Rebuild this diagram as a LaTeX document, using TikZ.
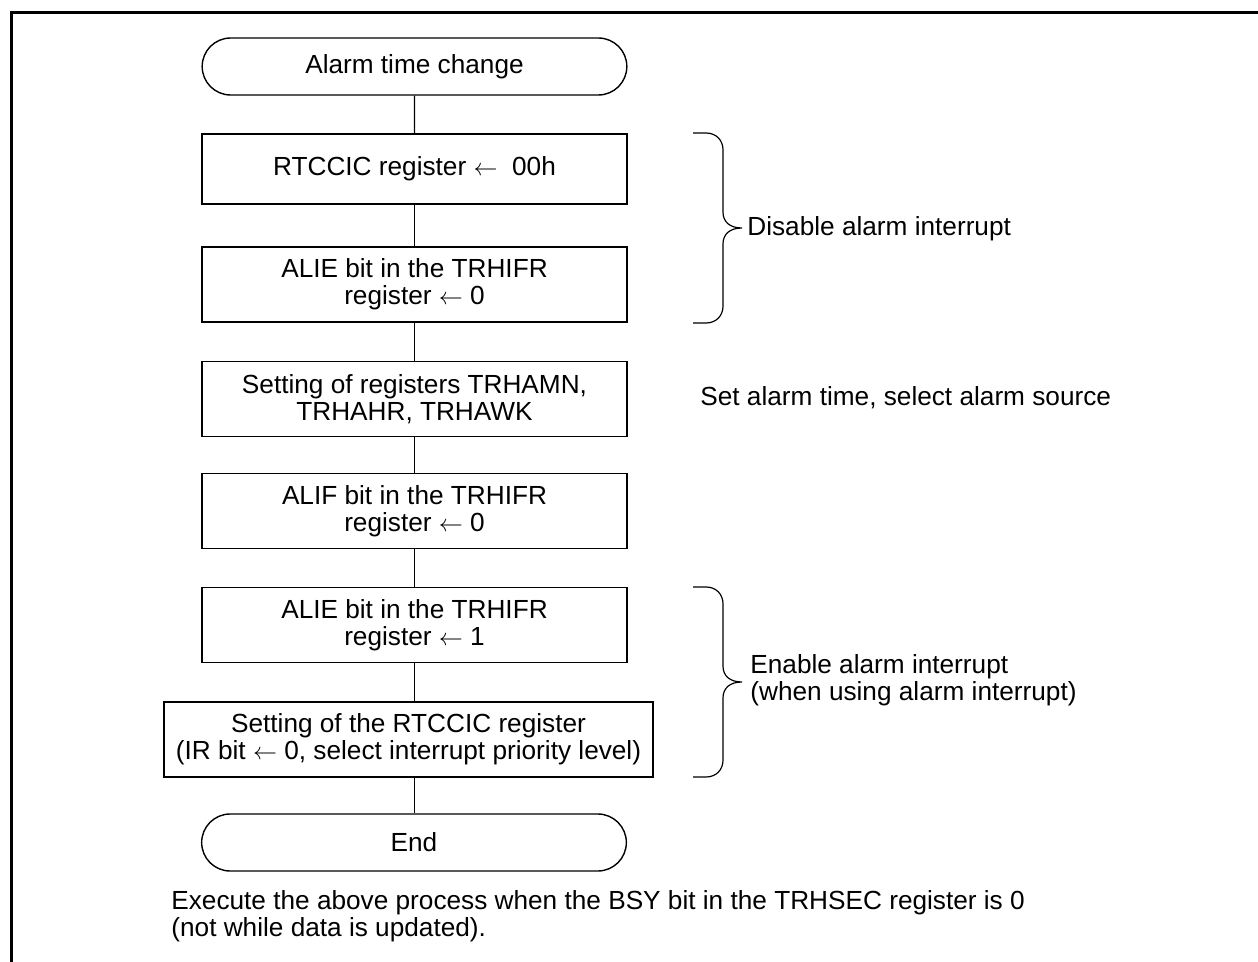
\documentclass[tikz,border=0pt]{standalone}
\usepackage{fontspec}
\setmainfont{Liberation Sans}
\usetikzlibrary{shapes.misc, positioning, calc}

\tikzset{
  proc/.style={draw, line width=0.7pt, rectangle, align=center,
               minimum width=212.5pt, minimum height=37.5pt, inner sep=2pt},
  term/.style={draw, line width=0.7pt, rounded rectangle, align=center,
               minimum width=219pt, minimum height=28.5pt},
  flow/.style={line width=0.6pt},
  note/.style={anchor=west, align=left, inner sep=0pt},
  sidebrace/.pic={
    \draw[flow] (0,0) -- ++(13,0) .. controls +(10,0) and +(0,-10) .. ++(17,17)
      -- ++(0,62) .. controls +(0,10) and +(-12,0) .. ++(19,16)
      .. controls +(-12,0) and +(0,-10) .. ++(-19,16)
      -- ++(0,62) .. controls +(0,10) and +(10,0) .. ++(-17,17) -- ++(-13,0);
  },
}

\begin{document}
\begin{tikzpicture}[x=0.5pt, y=-0.5pt, font=\fontsize{13.1}{13.5}\selectfont]
  \useasboundingbox (0,0) rectangle (1258,962);
  % frame
  \draw[line width=1.5pt] (1258,13) -- (11,13) -- (11,962);

  % flow
  \node[term] (start) at (414.5,66.5) {Alarm time change};
  \node[proc, minimum height=35pt] (b1) at (414.5,169) {RTCCIC register $\leftarrow$\ \ 00h};
  \node[proc] (b2) at (414.5,284.5) {ALIE bit in the TRHIFR\\register $\leftarrow$ 0};
  \node[proc] (b3) at (414.5,399) {Setting of registers TRHAMN,\\TRHAHR, TRHAWK};
  \node[proc] (b4) at (414.5,511) {ALIF bit in the TRHIFR\\register $\leftarrow$ 0};
  \node[proc] (b5) at (414.5,625) {ALIE bit in the TRHIFR\\register $\leftarrow$ 1};
  \node[proc, minimum width=244.5pt] (b6) at (408.5,739.5)
       {Setting of the RTCCIC register\\(IR bit $\leftarrow$ 0, select interrupt priority level)};
  \node[term] (end) at (414,842.5) {End};

  \draw[flow] (start) -- (b1);
  \draw[flow] (b1) -- (b2);
  \draw[flow] (b2) -- (b3);
  \draw[flow] (b3) -- (b4);
  \draw[flow] (b4) -- (b5);
  \draw[flow] (b5.south) -- (b5.south |- b6.north);
  \draw[flow] (b6.south -| b5.south) -- (b5.south |- end.north);

  % braces and notes
  \pic at (693,133) {sidebrace};
  \pic at (693,587) {sidebrace};
  \node[note] (disable) at (747,229) {Disable alarm interrupt};
  \node[note] (setalarm) at (700,398) {Set alarm time, select alarm source};
  \node[note] (enable) at (750,680) {Enable alarm interrupt\\(when using alarm interrupt)};
  \node[note] (footer) at (171,916)
       {Execute the above process when the BSY bit in the TRHSEC register is 0\\(not while data is updated).};
\end{tikzpicture}
\end{document}
